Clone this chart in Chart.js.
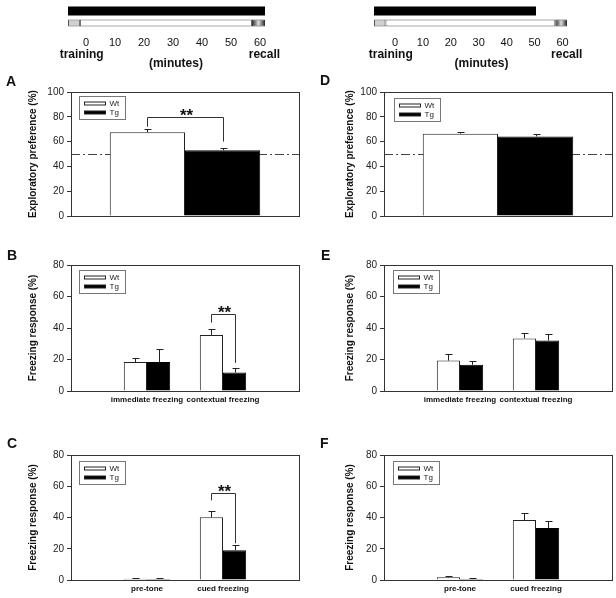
<!DOCTYPE html>
<html>
<head>
<meta charset="utf-8">
<script src="https://cdn.jsdelivr.net/npm/chart.js@4.4.1/dist/chart.umd.min.js"></script>
<style>
  body { margin: 0; background: #fff; width: 616px; height: 598px; overflow: hidden; position: relative; font-family: "Liberation Sans", Arial, sans-serif; }
  canvas { position: absolute; }
  .letter { position: absolute; font-weight: bold; font-size: 14px; line-height: 16px; color: #111; }
</style>
</head>
<body>
<canvas id="timeLeft" style="left:0;top:0" width="308" height="70"></canvas>
<canvas id="timeRight" style="left:308px;top:0" width="308" height="70"></canvas>
<canvas id="panelA" style="left:0;top:80px" width="308" height="150"></canvas>
<canvas id="panelD" style="left:308px;top:80px" width="308" height="150"></canvas>
<canvas id="panelB" style="left:0;top:255px" width="308" height="155"></canvas>
<canvas id="panelE" style="left:308px;top:255px" width="308" height="155"></canvas>
<canvas id="panelC" style="left:0;top:444px" width="308" height="154"></canvas>
<canvas id="panelF" style="left:308px;top:444px" width="308" height="154"></canvas>
<div class="letter" style="left:6px;top:73px">A</div>
<div class="letter" style="left:7px;top:247px">B</div>
<div class="letter" style="left:7px;top:435px">C</div>
<div class="letter" style="left:320px;top:72px">D</div>
<div class="letter" style="left:321px;top:247px">E</div>
<div class="letter" style="left:320px;top:435px">F</div>
<script>
// timeline (minutes)
const minuteTicks = [0, 10, 20, 30, 40, 50, 60];
const leftRange = [-6.2, 61.7];
const leftTreat = [-6.2, 61.7];
const leftTrain = [-6.2, -2.1];
const leftDelay = [-2.1, 57.2];
const leftRecall = [57.2, 61.7];
const rightRange = [-7.5, 61.6];
const rightTreat = [-7.5, 50.5];
const rightTrain = [-7.5, -3.4];
const rightDelay = [-3.4, 57.4];
const rightRecall = [57.4, 61.6];

// bar panels
const groups = ['Wt', 'Tg'];
const prefCats = [''];
const freezeCats = ['', 'immediate freezing', 'contextual freezing', ''];
const cuedCats = ['', 'pre-tone', 'cued freezing', ''];
const chanceLevel = 50;

const aWt = [67.5], aWtSem = [2.3];
const aTg = [53.0], aTgSem = [1.6];
const dWt = [66.4], dWtSem = [1.6];
const dTg = [64.2], dTgSem = [1.7];

const bWt = [null, 18.4, 35.6, null], bWtSem = [null, 2.6, 3.8, null];
const bTg = [null, 18.4, 11.7, null], bTgSem = [null, 8.5, 3.2, null];
const eWt = [null, 19.3, 33.4, null], eWtSem = [null, 4.1, 3.3, null];
const eTg = [null, 16.6, 32.1, null], eTgSem = [null, 2.7, 4.0, null];

const cWt = [null, 0.8, 40.1, null], cWtSem = [null, 0.5, 3.9, null];
const cTg = [null, 0.6, 19.0, null], cTgSem = [null, 0.4, 3.4, null];
const fWt = [null, 1.7, 38.4, null], fWtSem = [null, 0.6, 4.5, null];
const fTg = [null, 0.6, 33.3, null], fTgSem = [null, 0.7, 4.6, null];

// significance brackets: category index, bracket top, Wt end, Tg end
const sigA = [0, 80, 72, 60];
const sigB = [2, 49, 43.4, 17.8];
const sigC = [2, 56, 51, 23.5];

const FONT = '"Liberation Sans", Arial, sans-serif';
const INK = '#111';

function timeline(id, range, treat, train, delay, recall, padLeft, padRight) {
    const phaseText = {
        id: 'phaseText',
        afterDraw(chart) {
            const { ctx, chartArea: a, scales: { x } } = chart;
            ctx.save();
            ctx.fillStyle = INK;
            ctx.font = 'bold 12px ' + FONT;
            ctx.textAlign = 'center';
            ctx.textBaseline = 'middle';
            ctx.fillText('training', x.getPixelForValue(-1.5), a.bottom + 26);
            ctx.fillText('recall', x.getPixelForValue(61.5), a.bottom + 26);
            ctx.fillText('(minutes)', x.getPixelForValue(31), a.bottom + 35);
            ctx.restore();
        }
    };
    new Chart(document.getElementById(id), {
        type: 'bar',
        data: {
            labels: ['treatment', 'schedule'],
            datasets: [
                { data: [treat, null], backgroundColor: '#000', borderWidth: 0, barPercentage: 0.75 },
                { data: [null, train], backgroundColor: '#d0d0d0', borderColor: '#555', borderWidth: 1, barPercentage: 0.6 },
                { data: [null, delay], backgroundColor: '#fff', borderColor: '#555', borderWidth: 1, barPercentage: 0.6 },
                {
                    data: [null, recall], borderColor: '#333', borderWidth: 1, barPercentage: 0.6,
                    backgroundColor: (c) => {
                        const x = c.chart.scales.x;
                        if (!x) return '#333';
                        const x0 = x.getPixelForValue(recall[0]), x1 = x.getPixelForValue(recall[1]);
                        if (!isFinite(x0) || !isFinite(x1)) return '#333';
                        const g = c.chart.ctx.createLinearGradient(x0, 0, x1, 0);
                        g.addColorStop(0, '#222');
                        g.addColorStop(0.5, '#ddd');
                        g.addColorStop(1, '#222');
                        return g;
                    }
                }
            ]
        },
        options: {
            indexAxis: 'y',
            responsive: false,
            animation: false,
            layout: { padding: { left: padLeft, right: padRight, top: 5 } },
            datasets: { bar: { grouped: false, categoryPercentage: 1, borderSkipped: false } },
            plugins: { legend: { display: false }, tooltip: { enabled: false } },
            scales: {
                y: { display: false },
                x: {
                    type: 'linear',
                    min: range[0],
                    max: range[1],
                    grid: { display: false, drawTicks: false },
                    border: { display: false },
                    afterBuildTicks: (s) => { s.ticks = minuteTicks.map(v => ({ value: v })); },
                    ticks: { padding: 7, color: INK, font: { size: 11, family: FONT } },
                    afterFit: (s) => { s.height = 41; }
                }
            }
        },
        plugins: [phaseText]
    });
}

function panel(id, cats, wt, wtSem, tg, tgSem, o) {
    const decor = {
        id: 'decor',
        beforeDatasetsDraw(chart) {
            if (o.chance == null) return;
            const { ctx, chartArea: a, scales: { y } } = chart;
            const py = Math.round(y.getPixelForValue(o.chance)) + 0.5;
            ctx.save();
            ctx.strokeStyle = '#444';
            ctx.lineWidth = 1;
            ctx.setLineDash([9, 3, 2, 3]);
            ctx.beginPath();
            ctx.moveTo(a.left, py);
            ctx.lineTo(a.right, py);
            ctx.stroke();
            ctx.restore();
        },
        afterDatasetsDraw(chart) {
            const { ctx, chartArea: a, scales: { y } } = chart;
            ctx.save();
            ctx.strokeStyle = '#222';
            ctx.lineWidth = 1;
            // error bars (upper half)
            chart.data.datasets.forEach((ds, di) => {
                chart.getDatasetMeta(di).data.forEach((bar, i) => {
                    if (ds.data[i] == null) return;
                    const top = Math.round(y.getPixelForValue(ds.data[i] + ds.sem[i])) + 0.5;
                    const x = Math.round(bar.x) + 0.5;
                    ctx.beginPath();
                    ctx.moveTo(x, bar.y);
                    ctx.lineTo(x, top);
                    ctx.moveTo(x - 3, top);
                    ctx.lineTo(x + 4, top);
                    ctx.stroke();
                });
            });
            // significance bracket
            if (o.sig) {
                const [ci, topV, wEnd, tEnd] = o.sig;
                const xw = Math.round(chart.getDatasetMeta(0).data[ci].x) + 0.5;
                const xt = Math.round(chart.getDatasetMeta(1).data[ci].x) + 0.5;
                const yt = Math.round(y.getPixelForValue(topV)) + 0.5;
                ctx.strokeStyle = '#333';
                ctx.beginPath();
                ctx.moveTo(xw, y.getPixelForValue(wEnd));
                ctx.lineTo(xw, yt);
                ctx.lineTo(xt, yt);
                ctx.lineTo(xt, y.getPixelForValue(tEnd));
                ctx.stroke();
                ctx.fillStyle = INK;
                ctx.font = 'bold 17px ' + FONT;
                ctx.textAlign = 'center';
                ctx.textBaseline = 'alphabetic';
                ctx.fillText('**', (xw + xt) / 2 + 1, yt + 3);
            }
            // frame
            ctx.strokeStyle = '#333';
            const l = Math.round(a.left) + 0.5, t = Math.round(a.top) + 0.5;
            ctx.strokeRect(l, t, Math.round(a.right) - Math.round(a.left), Math.round(a.bottom) - Math.round(a.top));
            // legend box
            const lx = Math.round(a.left) + o.leg[0] + 0.5, ly = Math.round(a.top) + o.leg[1] + 0.5;
            ctx.strokeStyle = '#777';
            ctx.strokeRect(lx, ly, 46, 23);
            chart.data.datasets.forEach((ds, di) => {
                const cy = ly + 7.5 + di * 9;
                ctx.fillStyle = ds.backgroundColor;
                ctx.strokeStyle = '#222';
                ctx.fillRect(lx + 5, cy - 2, 21, 3);
                ctx.strokeRect(lx + 5, cy - 2, 21, 3);
                ctx.fillStyle = '#222';
                ctx.font = '8px ' + FONT;
                ctx.textAlign = 'left';
                ctx.textBaseline = 'middle';
                ctx.fillText(ds.label, lx + 30, cy);
            });
            ctx.restore();
        }
    };
    new Chart(document.getElementById(id), {
        type: 'bar',
        data: {
            labels: cats,
            datasets: [
                { label: groups[0], data: wt, sem: wtSem, backgroundColor: '#fff', borderColor: '#222', borderWidth: 1 },
                { label: groups[1], data: tg, sem: tgSem, backgroundColor: '#000', borderColor: '#000', borderWidth: 1 }
            ]
        },
        options: {
            responsive: false,
            animation: false,
            layout: { padding: { top: o.padTop, right: o.padRight, left: 0, bottom: 0 } },
            datasets: { bar: { categoryPercentage: o.catPct, barPercentage: 1 } },
            plugins: { legend: { display: false }, tooltip: { enabled: false } },
            scales: {
                x: {
                    offset: cats.length === 1,
                    grid: { display: false, drawTicks: false },
                    border: { display: false },
                    ticks: { autoSkip: false, maxRotation: 0, padding: 4, color: INK, font: { size: 8, weight: 'bold', family: FONT } },
                    afterFit: (s) => { s.height = o.xH; }
                },
                y: {
                    min: 0,
                    max: o.yMax,
                    ticks: { stepSize: 20, padding: 3, color: '#222', font: { size: 10, family: FONT } },
                    grid: { drawOnChartArea: false, tickLength: 4, color: '#333' },
                    border: { display: false },
                    title: { display: true, text: o.yTitle, padding: { top: o.titlePad, bottom: 0 }, color: INK, font: { size: 10, weight: 'bold', family: FONT } },
                    afterFit: (s) => { s.width = o.yW; }
                }
            }
        },
        plugins: [decor]
    });
}

timeline('timeLeft', leftRange, leftTreat, leftTrain, leftDelay, leftRecall, 68, 43);
timeline('timeRight', rightRange, rightTreat, rightTrain, rightDelay, rightRecall, 66, 49);

const prefTitle = 'Exploratory preference (%)';
const freezeTitle = 'Freezing response (%)';
const leftCol = { yW: 71, padRight: 9, titlePad: 27 };
const rightCol = { yW: 76, padRight: 4, titlePad: 36 };

panel('panelA', prefCats, aWt, aWtSem, aTg, aTgSem, { ...leftCol, yMax: 100, yTitle: prefTitle, padTop: 12, xH: 14, catPct: 0.66, chance: chanceLevel, sig: sigA, leg: [8, 4] });
panel('panelD', prefCats, dWt, dWtSem, dTg, dTgSem, { ...rightCol, yMax: 100, yTitle: prefTitle, padTop: 12, xH: 14, catPct: 0.66, chance: chanceLevel, leg: [10, 6] });
panel('panelB', freezeCats, bWt, bWtSem, bTg, bTgSem, { ...leftCol, yMax: 80, yTitle: freezeTitle, padTop: 10, xH: 19, catPct: 0.61, sig: sigB, leg: [8, 5] });
panel('panelE', freezeCats, eWt, eWtSem, eTg, eTgSem, { ...rightCol, yMax: 80, yTitle: freezeTitle, padTop: 10, xH: 19, catPct: 0.61, leg: [9, 5] });
panel('panelC', cuedCats, cWt, cWtSem, cTg, cTgSem, { ...leftCol, yMax: 80, yTitle: freezeTitle, padTop: 11, xH: 18, catPct: 0.61, sig: sigC, leg: [8, 6] });
panel('panelF', cuedCats, fWt, fWtSem, fTg, fTgSem, { ...rightCol, yMax: 80, yTitle: freezeTitle, padTop: 11, xH: 18, catPct: 0.61, leg: [9, 6] });
</script>
</body>
</html>
